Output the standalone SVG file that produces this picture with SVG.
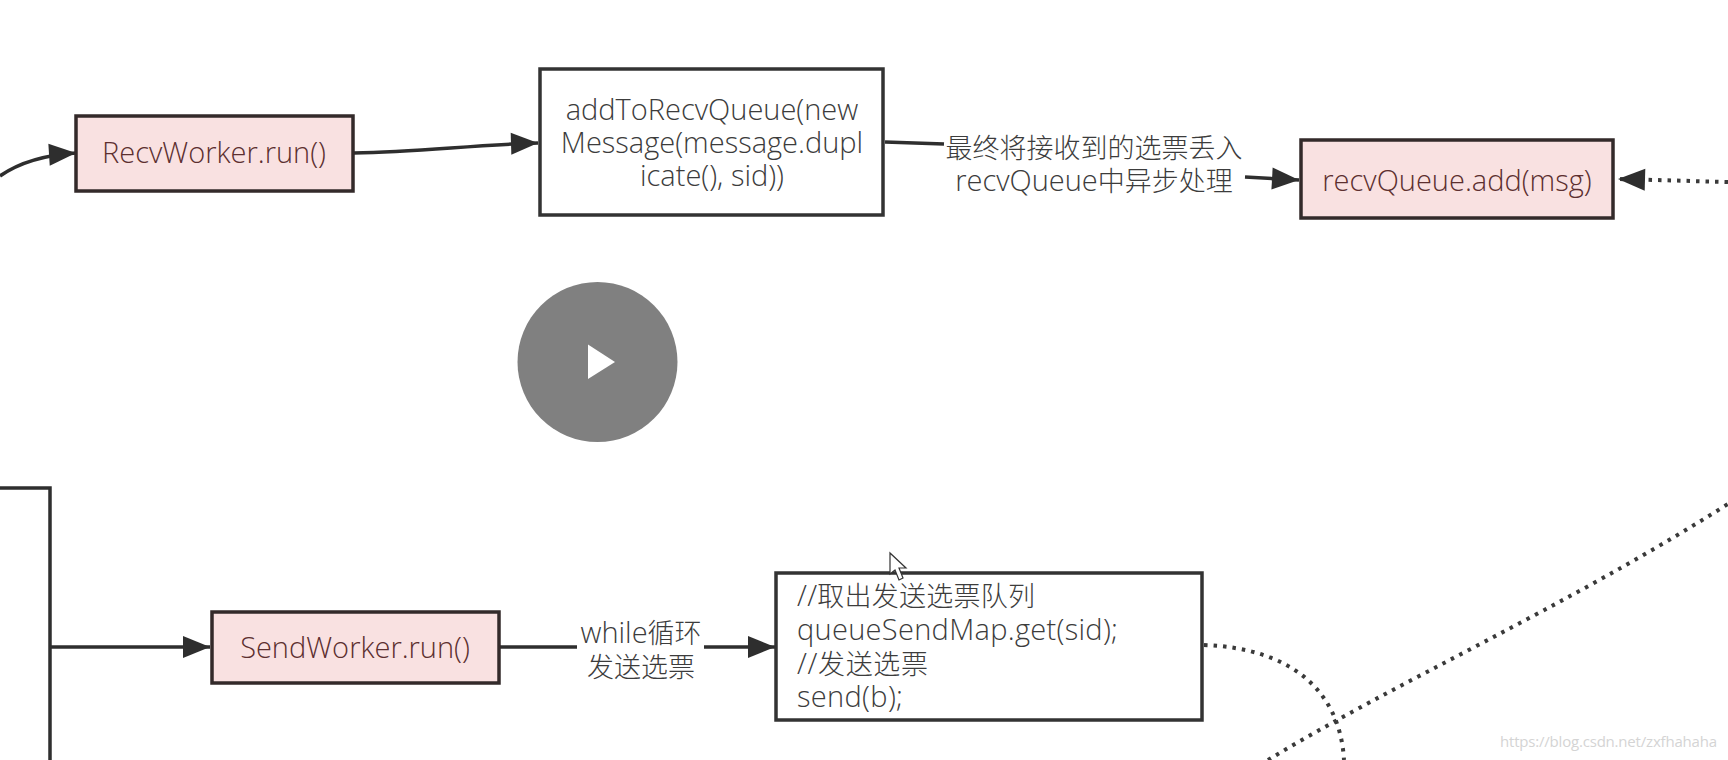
<svg xmlns="http://www.w3.org/2000/svg" width="1728" height="760" viewBox="0 0 1728 760">
<defs>
<marker id="ah" markerUnits="userSpaceOnUse" markerWidth="30" markerHeight="26" refX="29" refY="13" orient="auto"><path d="M2 2L29 13L2 24Z" fill="#2e2e2e"/></marker>
</defs>
<style>
text{font-family:"Open Sans","Noto Sans CJK SC",sans-serif;font-size:29px;font-weight:300;fill:#3c3c3c}
.z{font-size:27px}
.pink rect{fill:#f9e1e1;stroke:#332a2a;stroke-width:3.5}
.pink text{fill:#5c2f2f;text-anchor:middle}
.white rect{fill:#fff;stroke:#333;stroke-width:3.5}
.c{text-anchor:middle}
.line{fill:none;stroke:#2e2e2e;stroke-width:3.5}
.dot{fill:none;stroke:#3a3a3a;stroke-width:4;stroke-dasharray:3.5 6}
</style>
<rect width="1728" height="760" fill="#fff"/>
<g id="connectors">
<path class="line" d="M0 176C20 162 45 155 76 153" marker-end="url(#ah)"/>
<path class="line" d="M354 153C420 152 470 145 538 143" marker-end="url(#ah)"/>
<path class="line" d="M885 142L944 144"/>
<path class="line" d="M1245 177L1299 180" marker-end="url(#ah)"/>
<path class="dot" d="M1728 182L1618 179" marker-end="url(#ah)"/>
<path class="line" d="M0 488H50V760"/>
<path class="line" d="M50 647H210" marker-end="url(#ah)"/>
<path class="line" d="M500 647H577"/>
<path class="line" d="M704 647H775" marker-end="url(#ah)"/>
<path class="dot" d="M1204 645C1290 648 1340 690 1344 760"/>
<path class="dot" d="M1268 760C1400 680 1560 610 1728 504"/>
</g>
<g id="recvworker" class="pink"><rect x="76" y="116" width="277" height="75"/><text x="214" y="163">RecvWorker.run()</text></g>
<g id="addtorecvqueue" class="white"><rect x="540" y="69" width="343" height="146"/>
<text class="c" x="712" y="120">addToRecvQueue(new</text><text class="c" x="712" y="153">Message(message.dupl</text><text class="c" x="712" y="186">icate(), sid))</text></g>
<g id="label-queue"><text class="c z" x="1094" y="158">最终将接收到的选票丢入</text><text class="c" x="1094" y="191">recvQueue<tspan class="z">中异步处理</tspan></text></g>
<g id="recvqueue" class="pink"><rect x="1301" y="140" width="312" height="78"/><text x="1457" y="191">recvQueue.add(msg)</text></g>
<g id="sendworker" class="pink"><rect x="212" y="612" width="287" height="71"/><text x="355" y="658">SendWorker.run()</text></g>
<g id="label-while"><text class="c" x="641" y="643">while<tspan class="z">循环</tspan></text><text class="c z" x="641" y="677">发送选票</text></g>
<g id="sendbox" class="white"><rect x="776" y="573" width="426" height="147"/>
<text x="797" y="606" textLength="238">//<tspan class="z">取出发送选票队列</tspan></text><text x="797" y="640" textLength="321">queueSendMap.get(sid);</text><text x="797" y="674" textLength="131">//<tspan class="z">发送选票</tspan></text><text x="797" y="707" textLength="106">send(b);</text></g>
<g id="play"><circle cx="597.500" cy="362" r="80" fill="#808080"/><path d="M588 344.500L615 362L588 379Z" fill="#fff"/></g>
<g id="cursor"><path d="M890 553V574L895 570L899 580L903 578L899 568L906 568Z" fill="#fff" stroke="#333" stroke-width="1.200"/></g>
<text id="watermark" x="1500" y="747" textLength="217" style="font-size:15px;fill:#d4d4d4;font-weight:400">https://blog.csdn.net/zxfhahaha</text>
</svg>
